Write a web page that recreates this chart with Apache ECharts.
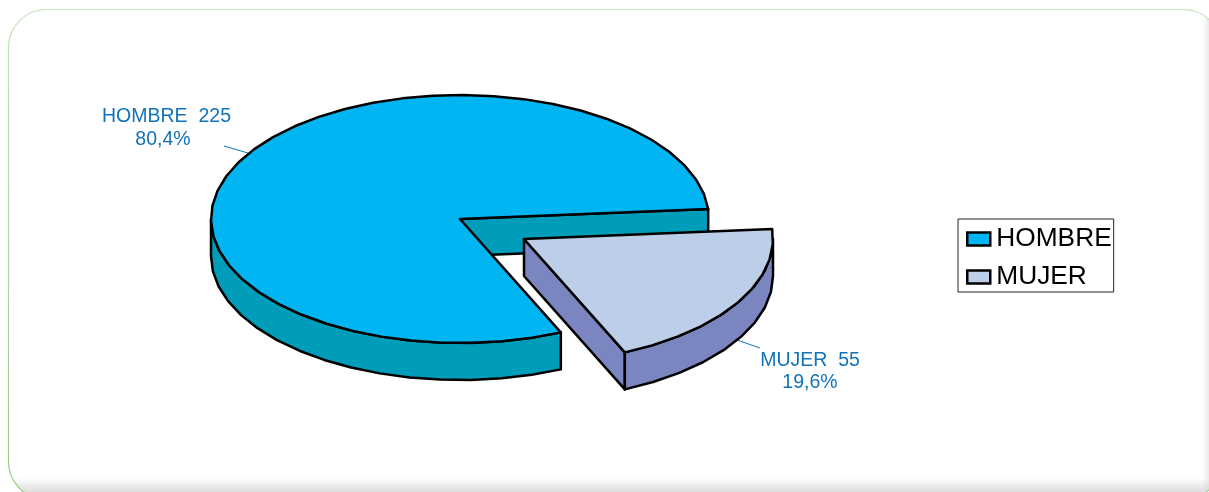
<!DOCTYPE html>
<html><head><meta charset="utf-8">
<style>html,body{margin:0;padding:0;background:#fff}#c{width:1209px;height:492px}</style>
<script src="https://cdn.jsdelivr.net/npm/echarts@6/dist/echarts.min.js"></script>
</head><body><div id="c"></div>
<script>
const categories = ['HOMBRE', 'MUJER'];
const values = [225, 55];
const total = values.reduce((a, b) => a + b, 0);

const FONT = '"Liberation Sans", Arial, sans-serif';
const INK = '#000';
const LABEL = '#1273B8';
const RX = 249, RY = 124, DEPTH = 37, STEP = 7;
const START = -4.6;           // clockwise on screen, where MUJER begins
const fills = [
  { top: '#00B5F1', side: '#009DBB' },
  { top: '#BDCEE9', side: '#7B86C1' }
];
const layouts = [
  { cx: 460, cy: 219, name: [166.5, 117], pct: [163, 140], leader: [[224, 146], [248, 153]] },
  { cx: 524, cy: 239, name: [810, 361], pct: [810, 383], leader: [[737, 340], [760, 348]] }
];

const rad = d => d * Math.PI / 180;
function rim(l, d, dy) { return [l.cx + RX * Math.cos(rad(d)), l.cy + dy + RY * Math.sin(rad(d))]; }
function arc(l, from, to, dy) {
  const pts = [];
  const n = Math.max(1, Math.round(Math.abs(to - from) / STEP));
  for (let i = 0; i <= n; i++) pts.push(rim(l, from + (to - from) * i / n, dy));
  return pts;
}
function poly(points, fill, z2) {
  return { type: 'polygon', z2: z2 || 0, shape: { points },
    style: { fill, stroke: INK, lineWidth: 2.5, lineJoin: 'round' } };
}
function line(a, b) {
  return { type: 'line', shape: { x1: a[0], y1: a[1], x2: b[0], y2: b[1] },
    style: { stroke: LABEL, lineWidth: 1 } };
}
function label(p, text) {
  return { type: 'text', z2: 5, style: { x: p[0], y: p[1], align: 'center', verticalAlign: 'middle',
    text, fill: LABEL, font: '19.5px ' + FONT } };
}
function pct(v) { return (v / total * 100).toFixed(1).replace('.', ','); }

function renderSlice(idx) {
  return function (params, api) {
    const v = api.value(0);
    const sweep = v / total * 360;
    const l = layouts[idx], f = fills[idx];
    const c = [l.cx, l.cy], cb = [l.cx, l.cy + DEPTH];
    let from, to;                                  // degrees, clockwise on screen
    if (idx === 1) { from = START; to = START + sweep; }
    else { to = START + 360; from = to - sweep; }
    const kids = [line(l.leader[0], l.leader[1])];

    if (idx === 0) {
      // inner cut wall behind the missing wedge
      const e = rim(l, to, 0), eb = rim(l, to, DEPTH);
      kids.push(poly([c, e, eb, cb], f.side, 1));
      // front rim
      const top = arc(l, from, 180, 0), bot = arc(l, from, 180, DEPTH).reverse();
      kids.push(poly(top.concat(bot), f.side, 2));
    } else {
      const s = rim(l, to, 0), sb = rim(l, to, DEPTH);
      kids.push(poly([c, s, sb, cb], f.side, 1));
      const top = arc(l, Math.max(from, 0), to, 0), bot = arc(l, Math.max(from, 0), to, DEPTH).reverse();
      kids.push(poly(top.concat(bot), f.side, 2));
    }
    kids.push(poly([c].concat(arc(l, from, to, 0)), f.top, 3));
    kids.push(label(l.name, categories[idx] + '  ' + v));
    kids.push(label(l.pct, pct(v) + '%'));
    return { type: 'group', children: kids };
  };
}

const CARD = { x: 8.5, y: 9.5, width: 1213, height: 490, r: 38 };
const chart = echarts.init(document.getElementById('c'), null, { renderer: 'canvas' });
chart.setOption({
  animation: false,
  backgroundColor: '#fff',
  graphic: [
    { type: 'rect', z: -10, silent: true, shape: CARD,
      style: { fill: { type: 'linear', x: 0, y: 0, x2: 0, y2: 1, colorStops: [
        { offset: 0, color: '#fff' }, { offset: 0.955, color: '#fff' }, { offset: 0.985, color: '#dcdcdc' }, { offset: 1, color: '#d0d0d0' }
      ] }, stroke: { type: 'linear', x: 0, y: 0, x2: 0, y2: 1, colorStops: [
        { offset: 0, color: '#C6E2B8' }, { offset: 1, color: '#8FCF80' }
      ] }, lineWidth: 1.2 } },
    { type: 'rect', z: -9, silent: true, shape: CARD,
      style: { fill: { type: 'linear', x: 0, y: 0, x2: 1, y2: 0, colorStops: [
        { offset: 0, color: 'rgba(215,215,215,0)' }, { offset: 0.984, color: 'rgba(215,215,215,0)' },
        { offset: 0.99, color: 'rgba(215,215,215,0.55)' }, { offset: 1, color: 'rgba(215,215,215,0.8)' }
      ] } } }
  ],
  legend: {
    orient: 'vertical', left: 958, top: 219,
    padding: [7, 2, 2, 8], itemGap: 12, itemWidth: 23, itemHeight: 13,
    borderColor: '#222', borderWidth: 1, backgroundColor: '#fff',
    icon: 'rect', itemStyle: { borderColor: INK, borderWidth: 2.5 },
    textStyle: { fontFamily: FONT, fontSize: 26.3, color: '#000', padding: [0, 0, 0, 1] },
    data: categories, selectedMode: false
  },
  series: categories.map((name, i) => ({
    type: 'custom', name, coordinateSystem: 'none', silent: true,
    z: 2 + i,
    itemStyle: { color: fills[i].top },
    renderItem: renderSlice(i),
    data: [[values[i]]]
  }))
});
</script></body></html>
